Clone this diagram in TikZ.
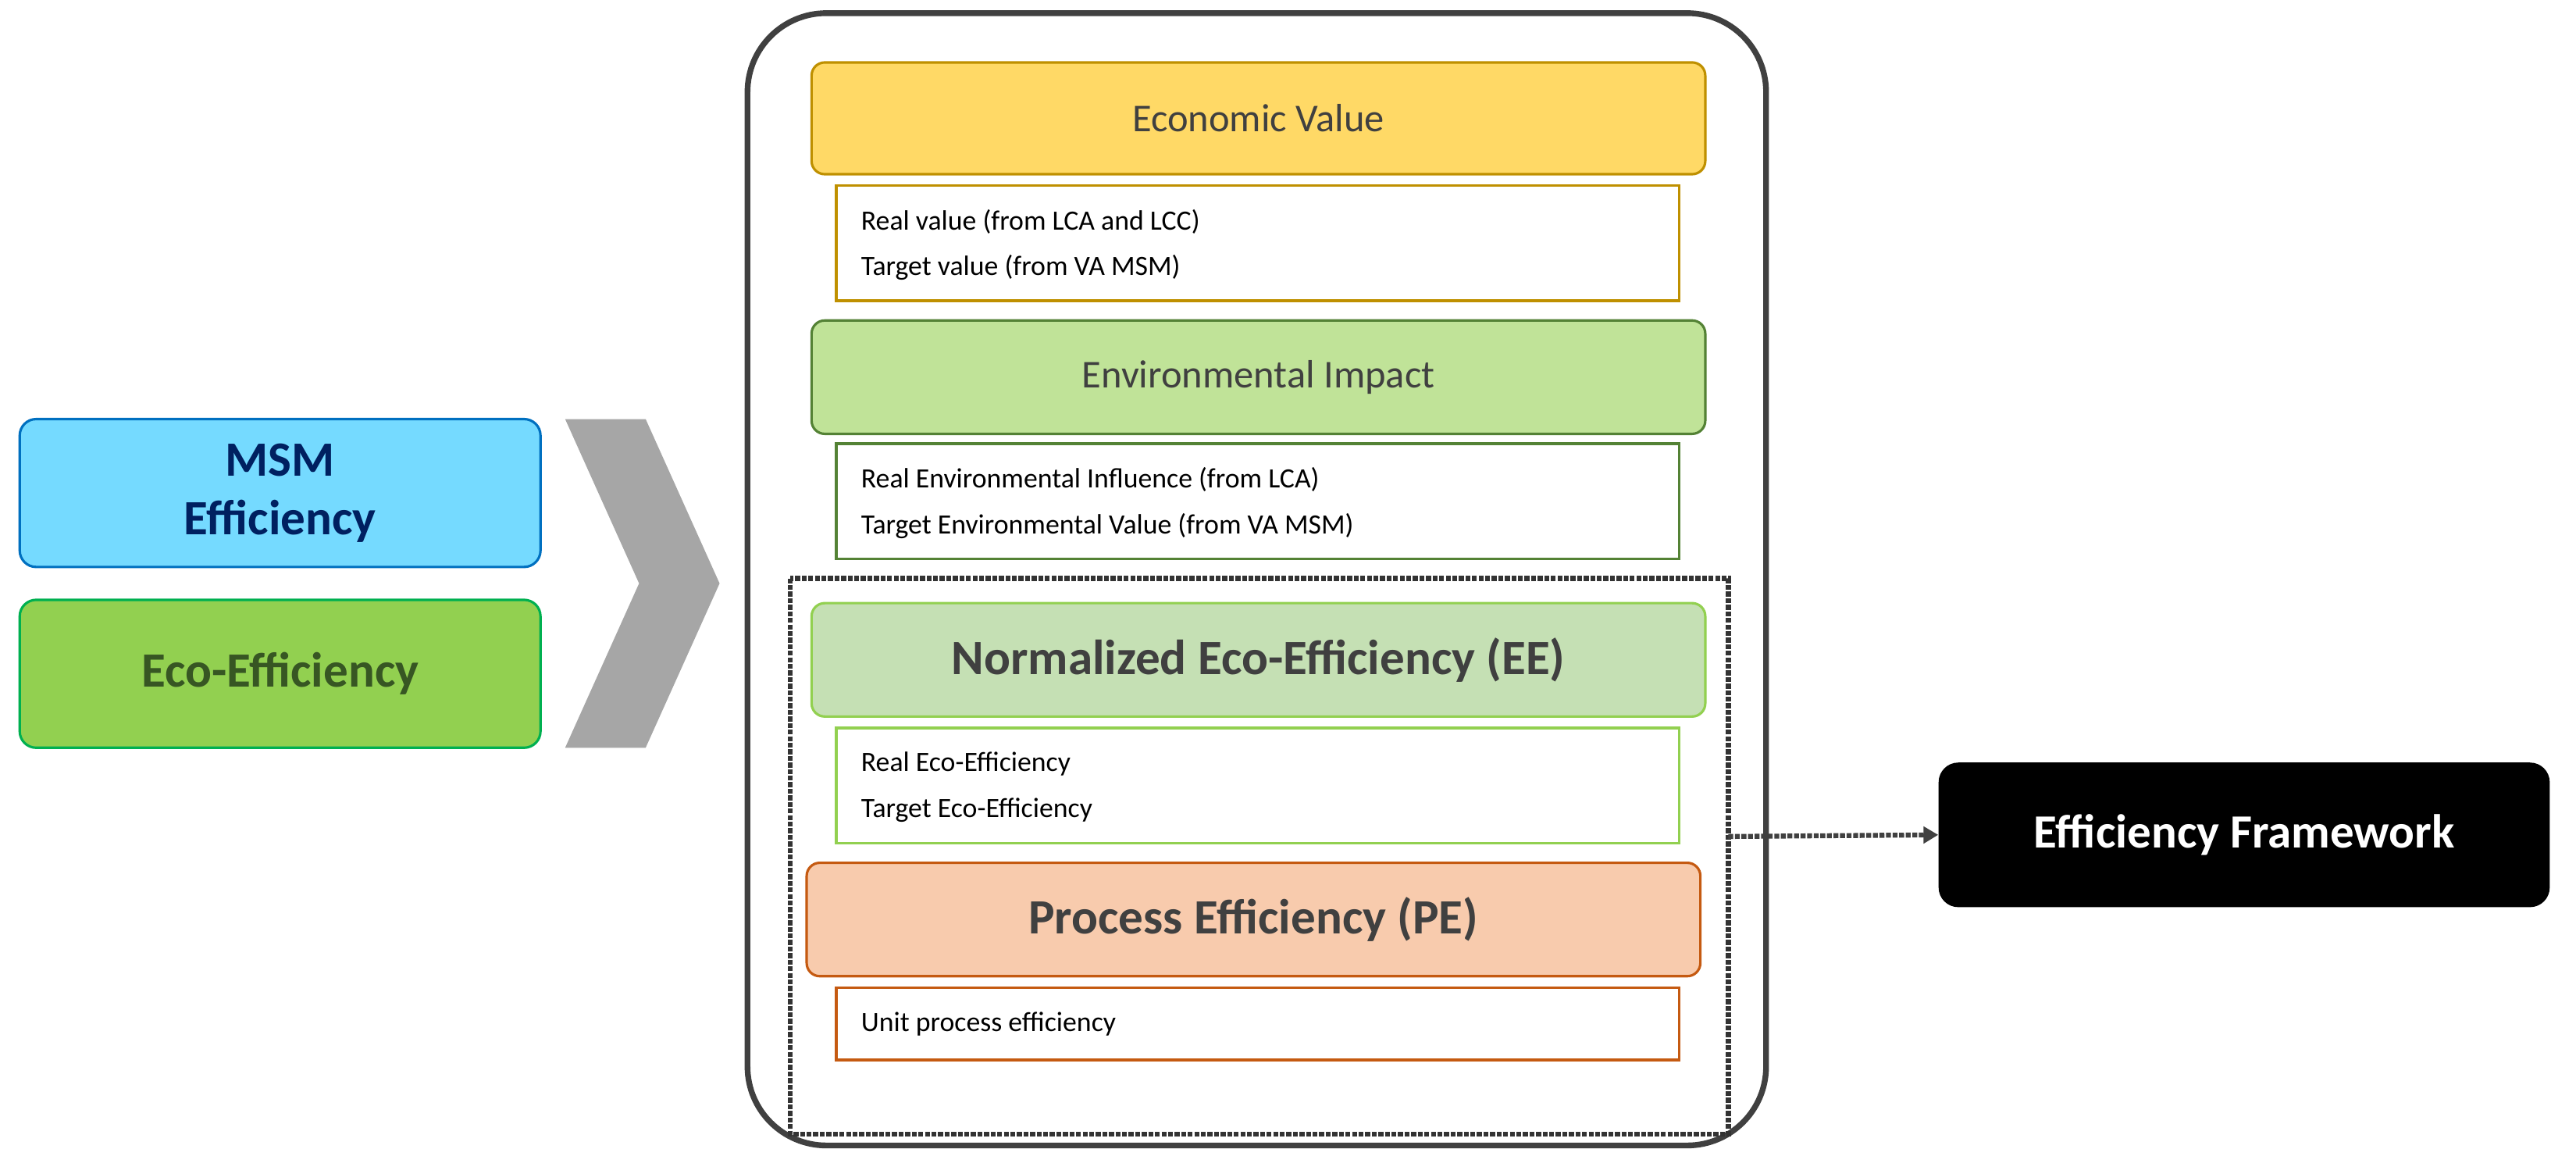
\documentclass[tikz,border=0pt]{standalone}
\usepackage{fontspec}
\setmainfont{Carlito}
\usetikzlibrary{arrows.meta}
\definecolor{evfill}{HTML}{FFD966}\definecolor{evline}{HTML}{BF9000}
\definecolor{eifill}{HTML}{C0E398}\definecolor{eiline}{HTML}{548235}
\definecolor{eefill}{HTML}{C5E0B4}\definecolor{eeline}{HTML}{92D050}
\definecolor{pefill}{HTML}{F8CBAD}\definecolor{peline}{HTML}{C55A11}
\definecolor{msmfill}{HTML}{75DAFF}\definecolor{msmline}{HTML}{0070C0}\definecolor{msmtext}{HTML}{002060}
\definecolor{ecofill}{HTML}{92D050}\definecolor{ecoline}{HTML}{00B050}\definecolor{ecotext}{HTML}{375623}
\definecolor{txt}{HTML}{404040}
\tikzset{
 head/.style={draw, line width=1.5pt, rounded corners=8pt, text=txt, inner sep=0pt},
 info/.style={draw, line width=1.5pt, fill=white, inner sep=0pt},
 itxt/.style={anchor=west, font=\fontsize{17}{20}\selectfont, text=black, inner sep=0pt},
}
\begin{document}
\begin{tikzpicture}[x=1pt,y=-1pt]
\useasboundingbox (0,0) rectangle (1568,714);
\fill[white] (0,0) rectangle (1568,714);
% outer frame
\draw[line width=3.5pt, draw=black!75, rounded corners=48pt] (455,8) rectangle (1075,697);
% headers
\node[head, fill=evfill, draw=evline, minimum width=544, minimum height=68, font=\fontsize{24}{28}\selectfont] (ev) at (766,72) {Economic Value};
\node[info, draw=evline, minimum width=513, minimum height=70] (evb) at (765.5,148) {};
\node[itxt] (ev1) at (524,135) {Real value (from LCA and LCC)};
\node[itxt] (ev2) at (524,163) {Target value (from VA MSM)};
\node[head, fill=eifill, draw=eiline, minimum width=544, minimum height=69, font=\fontsize{24}{28}\selectfont] (ei) at (766,229.5) {Environmental Impact};
\node[info, draw=eiline, minimum width=513, minimum height=70] (eib) at (765.5,305) {};
\node[itxt] (ei1) at (524,292) {Real Environmental Influence (from LCA)};
\node[itxt] (ei2) at (524,320) {Target Environmental Value (from VA MSM)};
% dotted region
\draw[line width=3pt, densely dotted, draw=black!80] (481,352) rectangle (1052,690);
\coordinate (dr) at (1052,509);
\node[head, fill=eefill, draw=eeline, minimum width=544, minimum height=69, font=\bfseries\fontsize{30}{34}\selectfont] (ee) at (766,401.5) {Normalized Eco-Efficiency (EE)};
\node[info, draw=eeline, minimum width=513, minimum height=70] (eeb) at (765.5,478) {};
\node[itxt] (ee1) at (524,465) {Real Eco-Efficiency};
\node[itxt] (ee2) at (524,493) {Target Eco-Efficiency};
\node[head, fill=pefill, draw=peline, minimum width=544, minimum height=69, font=\bfseries\fontsize{30}{34}\selectfont] (pe) at (763,559.5) {Process Efficiency (PE)};
\node[info, draw=peline, minimum width=513, minimum height=44] (peb) at (765.5,623) {};
\node[itxt] (pe1) at (524,623) {Unit process efficiency};
% left boxes
\node[draw=msmline, fill=msmfill, line width=1.5pt, rounded corners=10pt, minimum width=317, minimum height=90, text=msmtext, font=\bfseries\fontsize{30}{36}\selectfont, align=center, inner sep=0pt] (msm) at (170.5,300) {MSM\\Efficiency};
\node[draw=ecoline, fill=ecofill, line width=1.5pt, rounded corners=10pt, minimum width=317, minimum height=90, text=ecotext, font=\bfseries\fontsize{30}{36}\selectfont, inner sep=0pt] (eco) at (170.5,410) {Eco-Efficiency};
% chevron
\fill[black!35] (344,255) -- (393,255) -- (438,355) -- (393,455) -- (344,455) -- (389,355) -- cycle;
% framework
\node[fill=black, rounded corners=12pt, minimum width=372, minimum height=88, text=white, font=\bfseries\fontsize{29}{34}\selectfont, inner sep=0pt] (fw) at (1366,508) {Efficiency Framework};
\draw[line width=3pt, densely dotted, draw=black!75, -{Triangle[length=9pt,width=10pt]}] (dr) -- (fw.west);
\end{tikzpicture}
\end{document}
